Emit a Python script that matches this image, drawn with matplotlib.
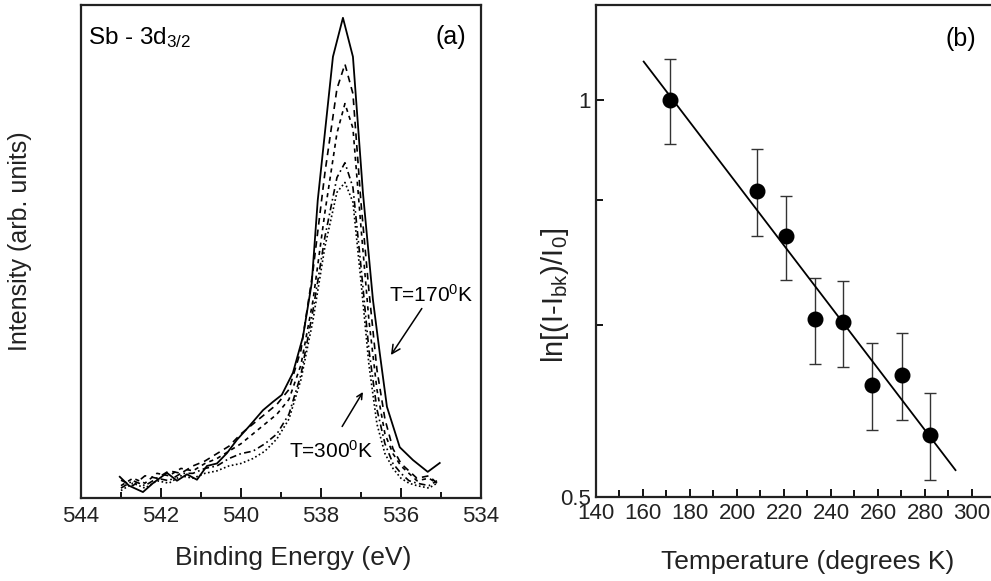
import numpy as np
import matplotlib
matplotlib.use("Agg")
import matplotlib.pyplot as plt
from matplotlib.ticker import MultipleLocator, FixedLocator, FixedFormatter, NullFormatter, NullLocator

plt.rcParams['font.family'] = ['Liberation Sans', 'DejaVu Sans']
plt.rcParams['mathtext.fontset'] = 'custom'
plt.rcParams['mathtext.rm'] = 'Liberation Sans'
plt.rcParams['mathtext.it'] = 'Liberation Sans:italic'

# (a) Sb 3d3/2 spectra, binding energy (eV) vs intensity (arb. units)
e_170 = [543.03, 542.8, 542.45, 542.2, 541.85, 541.6, 541.35, 541.1, 540.85, 540.6,
         540.35, 540.1, 539.8, 539.45, 539.2, 538.98, 538.7, 538.45, 538.23, 538.08,
         537.7, 537.45, 537.2, 536.95, 536.7, 536.53, 536.35, 536.03, 535.7, 535.33, 535.03]
i_170 = [4.3, 2.5, 1.2, 3.0, 5.1, 3.5, 4.8, 3.7, 6.5, 7.0,
         9.1, 11.8, 14.5, 17.8, 19.5, 20.9, 25.4, 32.7, 43.6, 60.4,
         89.5, 97.4, 89.5, 61.9, 40.2, 29.4, 18.5, 10.3, 7.7, 5.3, 7.1]

e_grid = [543.0, 542.7, 542.4, 542.1, 541.8, 541.5, 541.2, 540.9, 540.6, 540.3,
          540.0, 539.7, 539.4, 539.1, 538.8, 538.5, 538.2, 537.9, 537.6, 537.4,
          537.2, 537.0, 536.8, 536.6, 536.4, 536.2, 536.0, 535.8, 535.6, 535.3, 535.1]
i_a = [3.6, 2.5, 4.5, 4.0, 5.5, 5.0, 6.5, 7.5, 9.0, 10.5,
       13.0, 15.0, 17.0, 19.0, 22.0, 30.0, 46.0, 66.0, 83.0, 88.0,
       82.0, 60.0, 42.0, 26.0, 16.0, 10.0, 7.0, 5.5, 4.0, 4.5, 3.0]
i_b = [2.5, 4.0, 3.0, 5.0, 4.5, 6.0, 5.5, 7.0, 8.0, 9.5,
       11.0, 13.0, 15.0, 17.0, 20.0, 27.0, 40.0, 58.0, 74.0, 80.0,
       75.0, 55.0, 36.0, 22.0, 13.0, 9.0, 6.5, 5.0, 3.5, 4.0, 3.0]
i_c = [2.0, 3.5, 2.5, 4.0, 3.5, 5.0, 5.0, 6.0, 6.5, 8.0,
       9.0, 9.5, 11.0, 13.0, 17.0, 25.0, 38.0, 53.0, 65.0, 68.0,
       63.0, 47.0, 30.0, 18.0, 11.0, 7.0, 5.0, 3.5, 3.0, 2.5, 3.5]
i_d = [1.5, 3.0, 2.0, 3.5, 3.0, 4.5, 4.0, 5.0, 5.5, 6.5,
       7.0, 8.0, 9.5, 12.0, 16.0, 24.0, 36.0, 51.0, 62.0, 64.0,
       60.0, 44.0, 27.0, 15.0, 9.0, 6.0, 4.0, 3.0, 2.5, 2.0, 3.0]

# (b) temperature dependence with error bars and linear fit on log axis
temp = [171.6, 208.5, 220.7, 233.1, 245.3, 257.6, 270.1, 282.2]
lnI = [1.000, 0.853, 0.788, 0.682, 0.678, 0.608, 0.619, 0.557]
err = [0.074, 0.065, 0.058, 0.051, 0.051, 0.046, 0.047, 0.042]
fit_t = [160.3, 293.0]
fit_y = [1.069, 0.524]

fig = plt.figure(figsize=(9.91, 5.81), dpi=100)

ax1 = fig.add_axes([0.0817, 0.1429, 0.4036, 0.8485])
ax1.plot(e_170, i_170, color='k', lw=1.3, ls='-')
ax1.plot(e_grid, i_a, color='k', lw=1.2, ls=(0, (4, 3)))
ax1.plot(e_grid, i_b, color='k', lw=1.2, ls=(0, (2.5, 2.5)))
ax1.plot(e_grid, i_c, color='k', lw=1.2, ls=(0, (4, 2, 1, 2)))
ax1.plot(e_grid, i_d, color='k', lw=1.2, ls=(0, (1, 1.5)))
ax1.set_xlim(544, 534)
ax1.set_ylim(0, 100)
ax1.xaxis.set_major_locator(MultipleLocator(2))
ax1.xaxis.set_minor_locator(MultipleLocator(1))
ax1.yaxis.set_major_locator(NullLocator())
ax1.tick_params(axis='x', which='major', direction='in', length=7, width=1.3, labelsize=16,
                pad=6, labelcolor='#222222')
ax1.tick_params(axis='x', which='minor', direction='in', length=4, width=1.3)
ax1.set_xlabel('Binding Energy (eV)', fontsize=19, color='#222222')
ax1.xaxis.set_label_coords(0.53, -0.098)
ax1.set_ylabel('Intensity (arb. units)', fontsize=18, color='#222222')
ax1.yaxis.set_label_coords(-0.122, 0.52)
ax1.text(0.018, 0.96, r'Sb - 3d$\mathregular{_{3/2}}$', transform=ax1.transAxes,
         fontsize=17.5, va='top', ha='left')
ax1.text(0.962, 0.96, '(a)', transform=ax1.transAxes, fontsize=18, va='top', ha='right')
ax1.annotate(r'T=170$\mathregular{^0}$K', xy=(536.25, 29), xytext=(535.25, 39),
             fontsize=15, ha='center', va='bottom',
             arrowprops=dict(arrowstyle='->', color='k', lw=1.1, shrinkA=0, shrinkB=0))
ax1.annotate('', xy=(536.95, 21.5), xytext=(537.47, 14.5),
             arrowprops=dict(arrowstyle='->', color='k', lw=1.1, shrinkA=0, shrinkB=0))
ax1.text(536.7, 7.3, r'T=300$\mathregular{^0}$K', fontsize=15, ha='right', va='bottom')

ax2 = fig.add_axes([0.6014, 0.1446, 0.4268, 0.8468])
ax2.set_yscale('log')
ax2.errorbar(temp, lnI, yerr=err, fmt='none', ecolor='#333333', elinewidth=1.0,
             capsize=4, capthick=1.0)
ax2.plot(temp, lnI, 'o', color='k', markersize=10.5)
ax2.plot(fit_t, fit_y, color='k', lw=1.3)
ax2.set_xlim(140, 320)
ax2.set_ylim(0.5, 1.18)
ax2.xaxis.set_major_locator(MultipleLocator(20))
ax2.xaxis.set_minor_locator(MultipleLocator(10))
ax2.yaxis.set_major_locator(FixedLocator([0.5, 1.0]))
ax2.yaxis.set_minor_locator(FixedLocator([0.84, 0.675]))
ax2.yaxis.set_major_formatter(FixedFormatter(['0.5', '1']))
ax2.yaxis.set_minor_formatter(NullFormatter())
ax2.tick_params(axis='both', which='major', direction='in', length=6, width=1.3,
                labelsize=16, labelcolor='#222222')
ax2.tick_params(axis='both', which='minor', direction='in', length=5, width=1.3)
ax2.tick_params(axis='x', which='major', pad=4)
ax2.set_xlabel('Temperature (degrees K)', fontsize=19, color='#222222')
ax2.xaxis.set_label_coords(0.5, -0.108)
ax2.set_ylabel(r'ln[(I-I$\mathregular{_{bk}}$)/I$\mathregular{_0}$]', fontsize=21, color='#222222')
ax2.yaxis.set_label_coords(-0.06, 0.41)
ax2.text(0.863, 0.955, '(b)', transform=ax2.transAxes, fontsize=18, va='top', ha='center')

for ax in (ax1, ax2):
    for sp in ax.spines.values():
        sp.set_linewidth(1.6)
        sp.set_color('#222222')

fig.savefig('out.png', dpi=100)
